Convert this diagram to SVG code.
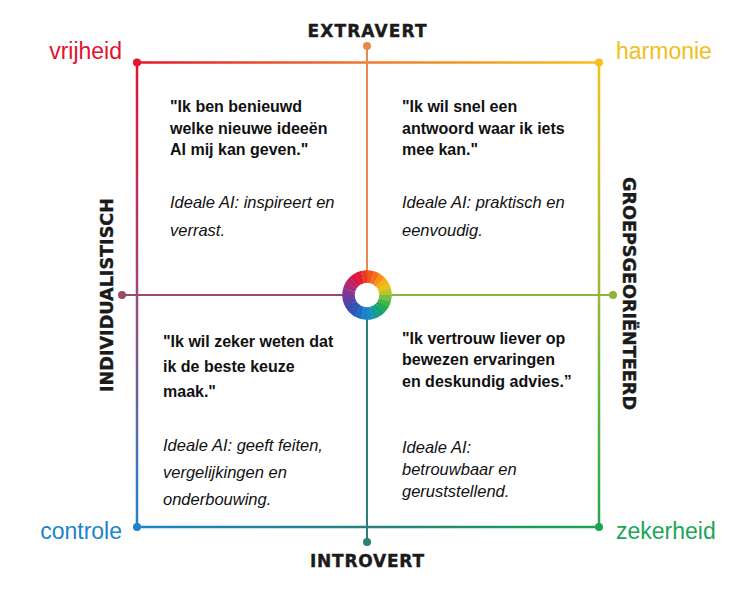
<svg xmlns="http://www.w3.org/2000/svg" width="754" height="601" viewBox="0 0 754 601">
<style>
.q{font-family:"Liberation Sans",Arial,sans-serif;font-weight:bold;font-size:16px;fill:#111}
.i{font-family:"Liberation Sans",Arial,sans-serif;font-style:italic;font-size:16.5px;fill:#111}
.ax{font-family:"DejaVu Sans","Liberation Sans",sans-serif;font-weight:900;font-size:17px;fill:#1b1b1b;stroke:#1b1b1b;stroke-width:0.4}
.vx{font-family:"DejaVu Sans","Liberation Sans",sans-serif;font-weight:900;font-size:18px;fill:#1b1b1b;stroke:#1b1b1b;stroke-width:0.4}
.c{font-family:"Liberation Sans",Arial,sans-serif;font-size:23px}
.ln{fill:none;stroke-width:2.5;stroke-linecap:round}
.axl{fill:none;stroke-width:2}
.seg{fill:none;stroke-width:12.5;stroke-dasharray:16 344}
</style>
<defs>
<linearGradient id="gTop" gradientUnits="userSpaceOnUse" x1="137" y1="0" x2="599" y2="0">
<stop offset="0" stop-color="#e3162d"/><stop offset="0.5" stop-color="#ee7a2c"/><stop offset="1" stop-color="#f5c11b"/>
</linearGradient>
<linearGradient id="gLeft" gradientUnits="userSpaceOnUse" x1="0" y1="62.5" x2="0" y2="527">
<stop offset="0" stop-color="#e2162e"/><stop offset="0.5" stop-color="#9a4a78"/><stop offset="1" stop-color="#2284c8"/>
</linearGradient>
<linearGradient id="gBottom" gradientUnits="userSpaceOnUse" x1="137" y1="0" x2="599" y2="0">
<stop offset="0" stop-color="#1e84c8"/><stop offset="0.5" stop-color="#2a8080"/><stop offset="1" stop-color="#1aa551"/>
</linearGradient>
<linearGradient id="gRight" gradientUnits="userSpaceOnUse" x1="0" y1="62.5" x2="0" y2="527">
<stop offset="0" stop-color="#f3c11a"/><stop offset="0.5" stop-color="#97b93b"/><stop offset="1" stop-color="#22a84c"/>
</linearGradient>
</defs>
<rect width="754" height="601" fill="#ffffff"/>
<g id="connectors">
<line class="ln" x1="137" y1="62.5" x2="599" y2="62.5" stroke="url(#gTop)"/>
<line class="ln" x1="137" y1="62.5" x2="137" y2="527" stroke="url(#gLeft)"/>
<line class="ln" x1="137" y1="527" x2="599" y2="527" stroke="url(#gBottom)"/>
<line class="ln" x1="599" y1="62.5" x2="599" y2="527" stroke="url(#gRight)"/>
<line class="axl" x1="367" y1="46" x2="367" y2="280" stroke="#e98a4c"/>
<line class="axl" x1="367" y1="310" x2="367" y2="542" stroke="#2b8078"/>
<line class="axl" x1="122" y1="295" x2="352" y2="295" stroke="#9a4a6c"/>
<line class="axl" x1="382" y1="295" x2="613" y2="295" stroke="#8ab43e"/>
<circle cx="137" cy="62.5" r="4" fill="#e3162d"/>
<circle cx="599" cy="62.5" r="4" fill="#f4c01b"/>
<circle cx="137" cy="527" r="4" fill="#1e84c8"/>
<circle cx="599" cy="527" r="4" fill="#1aa551"/>
<circle cx="367" cy="46" r="4" fill="#e98a4c"/>
<circle cx="367" cy="542" r="4" fill="#2b8078"/>
<circle cx="122" cy="295" r="4" fill="#9a4a6c"/>
<circle cx="613" cy="295" r="4" fill="#8ab43e"/>
</g>
<g id="center-ring">
<circle cx="367" cy="295" r="13" fill="#ffffff"/>
<circle class="seg" cx="367" cy="295" r="18.5" pathLength="360" stroke="#f2561b" transform="rotate(-90 367 295)"/>
<circle class="seg" cx="367" cy="295" r="18.5" pathLength="360" stroke="#f4701c" transform="rotate(-75 367 295)"/>
<circle class="seg" cx="367" cy="295" r="18.5" pathLength="360" stroke="#f78f1b" transform="rotate(-60 367 295)"/>
<circle class="seg" cx="367" cy="295" r="18.5" pathLength="360" stroke="#f9ae17" transform="rotate(-45 367 295)"/>
<circle class="seg" cx="367" cy="295" r="18.5" pathLength="360" stroke="#e6c31a" transform="rotate(-30 367 295)"/>
<circle class="seg" cx="367" cy="295" r="18.5" pathLength="360" stroke="#b5c52c" transform="rotate(-15 367 295)"/>
<circle class="seg" cx="367" cy="295" r="18.5" pathLength="360" stroke="#75c03f" transform="rotate(0 367 295)"/>
<circle class="seg" cx="367" cy="295" r="18.5" pathLength="360" stroke="#45b545" transform="rotate(15 367 295)"/>
<circle class="seg" cx="367" cy="295" r="18.5" pathLength="360" stroke="#22ab58" transform="rotate(30 367 295)"/>
<circle class="seg" cx="367" cy="295" r="18.5" pathLength="360" stroke="#14a273" transform="rotate(45 367 295)"/>
<circle class="seg" cx="367" cy="295" r="18.5" pathLength="360" stroke="#129a98" transform="rotate(60 367 295)"/>
<circle class="seg" cx="367" cy="295" r="18.5" pathLength="360" stroke="#168fbf" transform="rotate(75 367 295)"/>
<circle class="seg" cx="367" cy="295" r="18.5" pathLength="360" stroke="#1a82cc" transform="rotate(90 367 295)"/>
<circle class="seg" cx="367" cy="295" r="18.5" pathLength="360" stroke="#1d6cc4" transform="rotate(105 367 295)"/>
<circle class="seg" cx="367" cy="295" r="18.5" pathLength="360" stroke="#2a58ba" transform="rotate(120 367 295)"/>
<circle class="seg" cx="367" cy="295" r="18.5" pathLength="360" stroke="#364db2" transform="rotate(135 367 295)"/>
<circle class="seg" cx="367" cy="295" r="18.5" pathLength="360" stroke="#5045a8" transform="rotate(150 367 295)"/>
<circle class="seg" cx="367" cy="295" r="18.5" pathLength="360" stroke="#6c3d9e" transform="rotate(165 367 295)"/>
<circle class="seg" cx="367" cy="295" r="18.5" pathLength="360" stroke="#8a3590" transform="rotate(180 367 295)"/>
<circle class="seg" cx="367" cy="295" r="18.5" pathLength="360" stroke="#a82a7c" transform="rotate(195 367 295)"/>
<circle class="seg" cx="367" cy="295" r="18.5" pathLength="360" stroke="#c22062" transform="rotate(210 367 295)"/>
<circle class="seg" cx="367" cy="295" r="18.5" pathLength="360" stroke="#d6184a" transform="rotate(225 367 295)"/>
<circle class="seg" cx="367" cy="295" r="18.5" pathLength="360" stroke="#e4163a" transform="rotate(240 367 295)"/>
<circle class="seg" cx="367" cy="295" r="18.5" pathLength="360" stroke="#ec3a22" transform="rotate(255 367 295)"/>
</g>
<g id="label-extravert"><text class="ax" x="367" y="37" text-anchor="middle" textLength="119" lengthAdjust="spacing">EXTRAVERT</text></g>
<g id="label-introvert"><text class="ax" x="367" y="567" text-anchor="middle" textLength="114" lengthAdjust="spacing">INTROVERT</text></g>
<g id="label-individualistisch"><text class="vx" transform="translate(113 295) rotate(-90)" text-anchor="middle" textLength="194" lengthAdjust="spacingAndGlyphs">INDIVIDUALISTISCH</text></g>
<g id="label-groepsgeorienteerd"><text class="vx" transform="translate(623 293.5) rotate(90)" text-anchor="middle" textLength="233" lengthAdjust="spacingAndGlyphs">GROEPSGEORIËNTEERD</text></g>
<g id="corner-vrijheid"><text class="c" x="122" y="59" text-anchor="end" fill="#e3122c">vrijheid</text></g>
<g id="corner-harmonie"><text class="c" x="616" y="59" fill="#f2be1c">harmonie</text></g>
<g id="corner-controle"><text class="c" x="122" y="539" text-anchor="end" fill="#1a86c8">controle</text></g>
<g id="corner-zekerheid"><text class="c" x="616" y="539" fill="#1aa55a">zekerheid</text></g>
<g id="quadrant-top-left">
<text class="q" x="170" y="112">"Ik ben benieuwd</text>
<text class="q" x="170" y="134">welke nieuwe ideeën</text>
<text class="q" x="170" y="155">AI mij kan geven."</text>
<text class="i" x="170" y="208">Ideale AI: inspireert en</text>
<text class="i" x="170" y="236">verrast.</text>
</g>
<g id="quadrant-top-right">
<text class="q" x="402" y="112">"Ik wil snel een</text>
<text class="q" x="402" y="134">antwoord waar ik iets</text>
<text class="q" x="402" y="155">mee kan."</text>
<text class="i" x="402" y="208">Ideale AI: praktisch en</text>
<text class="i" x="402" y="236">eenvoudig.</text>
</g>
<g id="quadrant-bottom-left">
<text class="q" x="163" y="347">"Ik wil zeker weten dat</text>
<text class="q" x="163" y="372">ik de beste keuze</text>
<text class="q" x="163" y="397">maak."</text>
<text class="i" x="163" y="451">Ideale AI: geeft feiten,</text>
<text class="i" x="163" y="478">vergelijkingen en</text>
<text class="i" x="163" y="505">onderbouwing.</text>
</g>
<g id="quadrant-bottom-right">
<text class="q" x="402" y="344">"Ik vertrouw liever op</text>
<text class="q" x="402" y="365">bewezen ervaringen</text>
<text class="q" x="402" y="387">en deskundig advies.”</text>
<text class="i" x="402" y="453">Ideale AI:</text>
<text class="i" x="402" y="475">betrouwbaar en</text>
<text class="i" x="402" y="497">geruststellend.</text>
</g>
</svg>
